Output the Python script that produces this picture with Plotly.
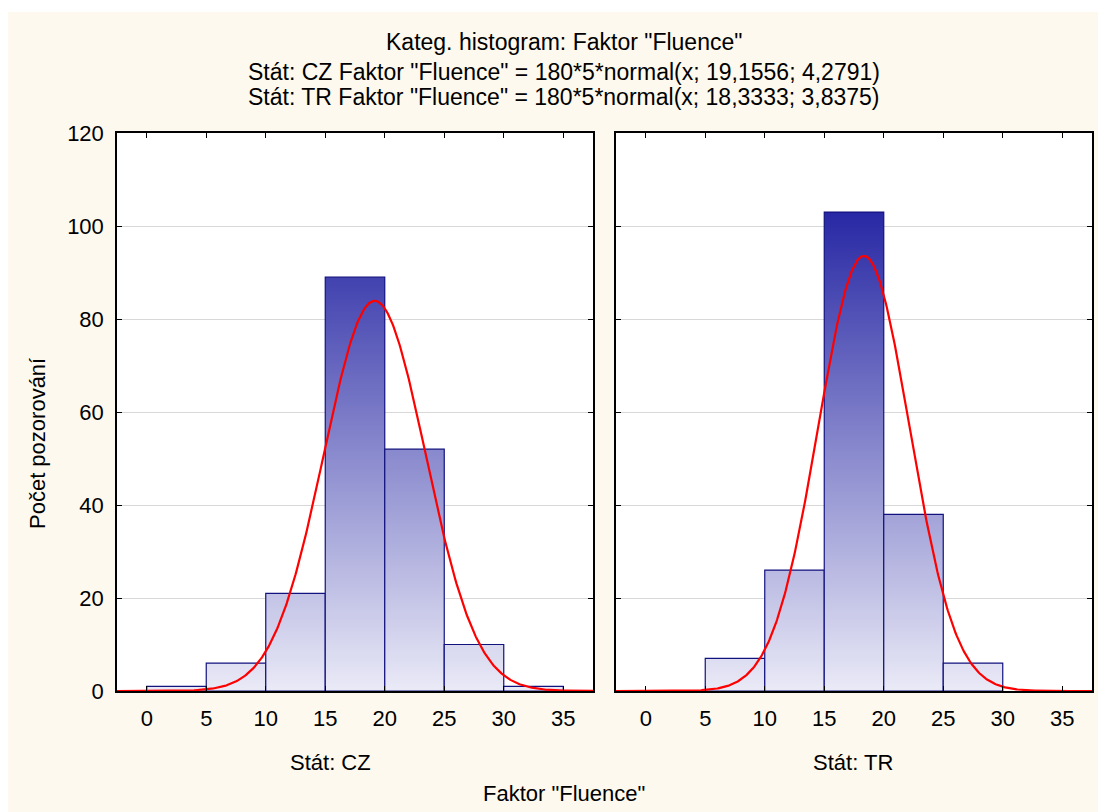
import numpy as np
import plotly.graph_objects as go
from plotly.subplots import make_subplots

# ---- data ----
bin_edges = [0, 5, 10, 15, 20, 25, 30, 35]
cz_counts = [1, 6, 21, 89, 52, 10, 1]
tr_counts = [0, 7, 26, 103, 38, 6, 0]
panel_labels = ["Stát: CZ", "Stát: TR"]
# normal fit parameters (from title): N*binwidth*normal(x; mean; sd)
fit_n = 180
fit_bw = 5
cz_mean, cz_sd = 19.1556, 4.2791
tr_mean, tr_sd = 18.3333, 3.8375
x_ticks = [0, 5, 10, 15, 20, 25, 30, 35]
y_ticks = [0, 20, 40, 60, 80, 100, 120]

title_lines = [
    'Kateg. histogram: Faktor "Fluence"',
    'Stát: CZ Faktor "Fluence" = 180*5*normal(x; 19,1556; 4,2791)',
    'Stát: TR Faktor "Fluence" = 180*5*normal(x; 18,3333; 3,8375)',
]

CREAM = "#FEF9EE"
BAR_LINE = "#12127F"
GRAD = [[0, "#EAEAF7"], [1, "#2222A2"]]
FONT = "Liberation Sans, Arial"

# page shows the figure offset by the 8px body margin
OFF = 8
FIG_W, FIG_H = 1106 - OFF, 812 - OFF
L, R, T, B = 117 - OFF, 14, 133 - OFF, FIG_H - (691 - OFF)
PW, PH = FIG_W - L - R, FIG_H - T - B

def px(sx):
    return (sx - OFF - L) / PW

def py(sy):
    return (FIG_H - B - (sy - OFF)) / PH

fig = make_subplots(rows=1, cols=2, horizontal_spacing=0.02)

def add_panel(col, counts, mean, sd):
    for i, c in enumerate(counts):
        if c <= 0:
            continue
        x0, x1 = bin_edges[i], bin_edges[i + 1]
        fig.add_trace(go.Scatter(
            x=[x0, x0, x1, x1, x0], y=[0, c, c, 0, 0],
            mode="lines", fill="toself",
            fillgradient=dict(type="vertical", colorscale=GRAD, start=0, stop=106),
            line=dict(color=BAR_LINE, width=1.2),
            hoverinfo="skip", showlegend=False,
        ), row=1, col=col)
    xs = np.linspace(-2.5, 37.5, 500)
    ys = fit_n * fit_bw * np.exp(-0.5 * ((xs - mean) / sd) ** 2) / (sd * np.sqrt(2 * np.pi))
    fig.add_trace(go.Scatter(x=xs, y=ys, mode="lines",
                             line=dict(color="#FF0000", width=2.2),
                             hoverinfo="skip", showlegend=False), row=1, col=col)

add_panel(1, cz_counts, cz_mean, cz_sd)
add_panel(2, tr_counts, tr_mean, tr_sd)

axis_common = dict(
    showline=True, linecolor="black", linewidth=1.5, mirror="ticks",
    ticks="inside", ticklen=5, tickcolor="black", tickwidth=1,
    zeroline=False,
    tickfont=dict(family=FONT, size=22, color="black"),
)

for col in (1, 2):
    fig.update_xaxes(range=[-2.5, 37.5], tickvals=x_ticks, showgrid=False,
                     ticklabelstandoff=7, row=1, col=col, **axis_common)
    fig.update_yaxes(range=[0, 120], tickvals=y_ticks, showgrid=True,
                     gridcolor="#D8D8D8", gridwidth=1,
                     showticklabels=(col == 1), ticklabelstandoff=7,
                     row=1, col=col, **axis_common)

fig.update_layout(
    width=FIG_W, height=FIG_H,
    margin=dict(l=L, r=R, t=T, b=B),
    paper_bgcolor=CREAM, plot_bgcolor="white",
    showlegend=False,
)
fig.update_layout(xaxis=dict(domain=[0, px(593)]), xaxis2=dict(domain=[px(616), px(1092)]))

# title lines
for txt, sy in zip(title_lines, [42, 72, 97]):
    fig.add_annotation(text=txt, xref="paper", yref="paper",
                       x=px(564), y=py(sy),
                       xanchor="center", yanchor="middle", showarrow=False,
                       font=dict(family=FONT, size=23, color="black"))

# panel labels
for txt, sx in zip(panel_labels, [330, 853]):
    fig.add_annotation(text=txt, xref="paper", yref="paper",
                       x=px(sx), y=py(762),
                       xanchor="center", yanchor="middle", showarrow=False,
                       font=dict(family=FONT, size=22, color="black"))

# overall x title
fig.add_annotation(text='Faktor "Fluence"', xref="paper", yref="paper",
                   x=px(564), y=py(793),
                   xanchor="center", yanchor="middle", showarrow=False,
                   font=dict(family=FONT, size=22, color="black"))

# y title
fig.add_annotation(text="Počet pozorování", xref="paper", yref="paper",
                   x=px(37), y=py(444), textangle=-90,
                   xanchor="center", yanchor="middle", showarrow=False,
                   font=dict(family=FONT, size=22, color="black"))

# thin white strip at the top edge of the image
fig.add_shape(type="rect", xref="paper", yref="paper",
              x0=px(0), x1=px(1106 + 20),
              y0=py(12), y1=py(0),
              fillcolor="white", line=dict(width=0), layer="above")

fig.write_html("out.html")
